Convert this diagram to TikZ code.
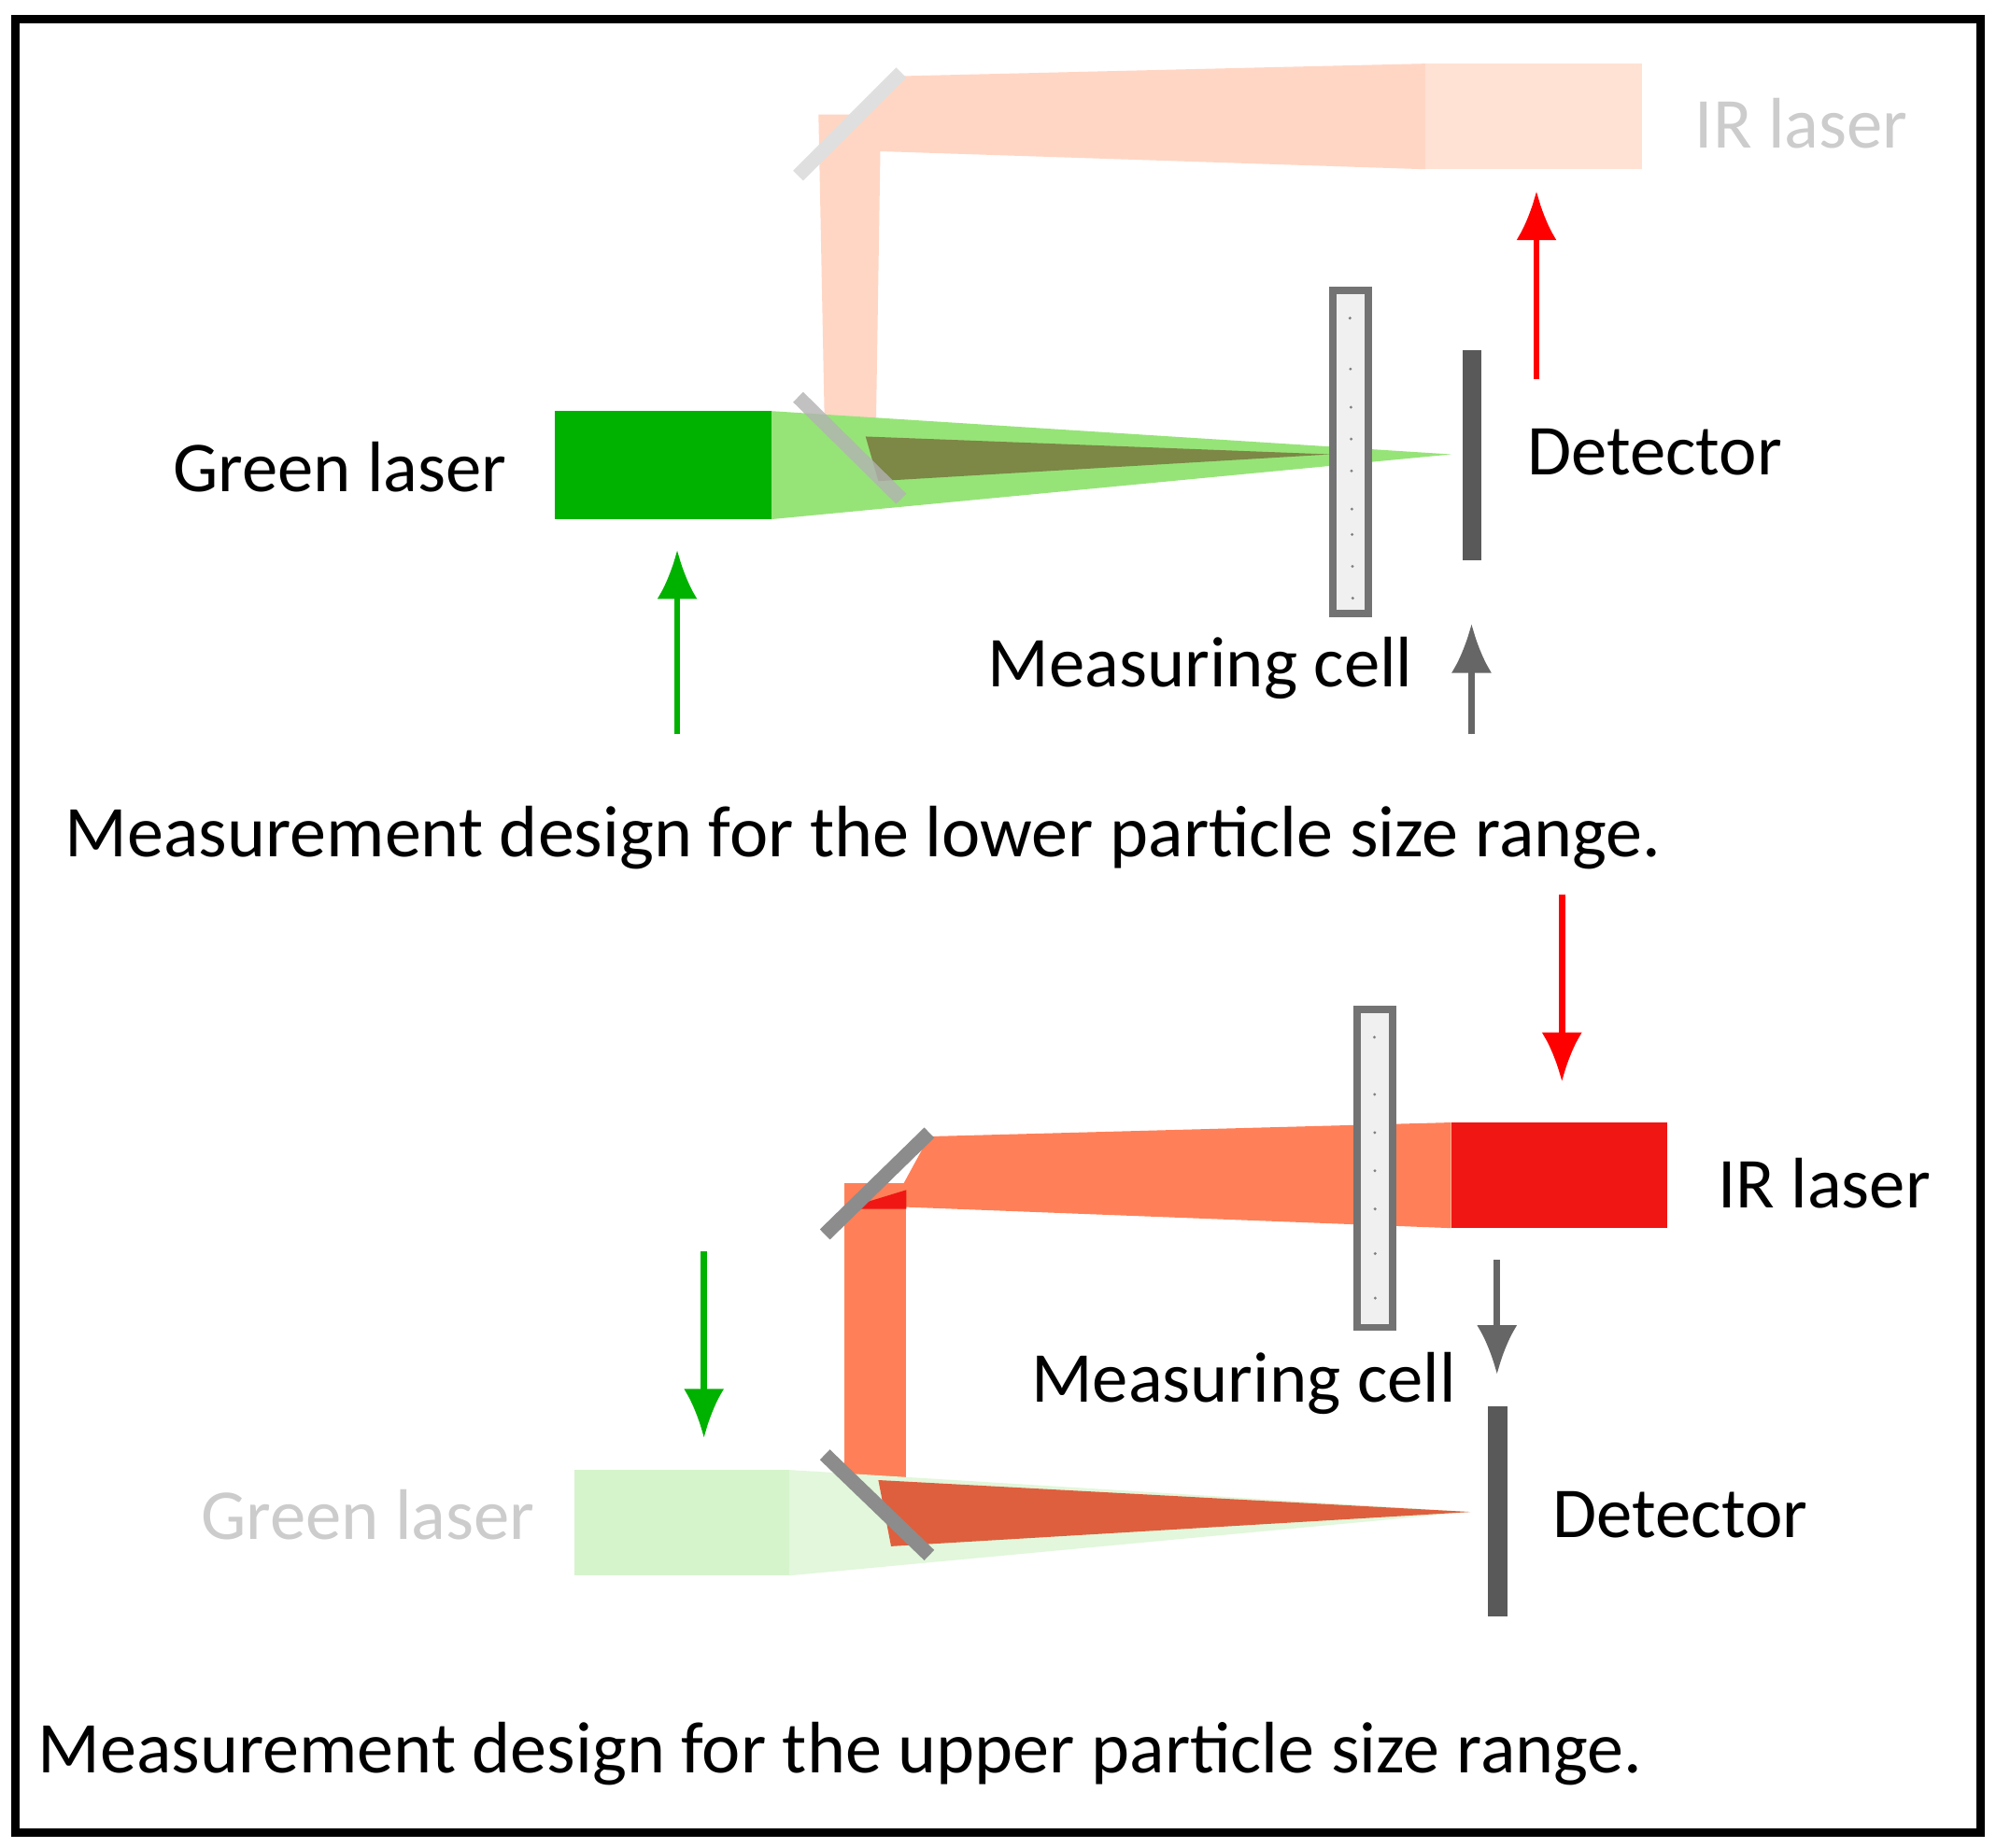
\documentclass[tikz,border=0pt]{standalone}
\usepackage{fontspec}
\usetikzlibrary{arrows.meta}
\setmainfont{Carlito}
\begin{document}
\begin{tikzpicture}[x=0.01cm,y=-0.01cm,
 lab/.style={font=\fontsize{16}{18}\selectfont,inner sep=0pt},
 captxt/.style={font=\fontsize{16.3}{19}\selectfont,inner sep=0pt},
 mirror/.style={line width=3.2pt,draw=gray!90},
 arr/.style={line width=1.4pt,-{Latex[length=11pt,width=9pt]}},
 cell/.style={draw=gray!90!black,line width=1.6pt,fill=gray!12}]
\definecolor{irfaint}{RGB}{255,226,212}
\definecolor{irbeamf}{RGB}{255,214,196}
\definecolor{grn}{RGB}{0,178,0}
\definecolor{grnbeam}{RGB}{150,228,120}
\definecolor{olive}{RGB}{125,135,70}
\definecolor{irred}{RGB}{240,22,20}
\definecolor{orng}{RGB}{255,128,88}
\definecolor{grnfaint}{RGB}{214,244,204}
\definecolor{darkred}{RGB}{222,95,62}
\useasboundingbox (0,0) rectangle (1568,1452);
\fill[white] (0,0) rectangle (1568,1452);
\draw[line width=1.8pt] (12,15) rectangle (1556,1440);
% ---- top panel
\fill[irbeamf] (700,60) -- (1120,50) -- (1120,133) -- (665,118) -- cycle;
\fill[irbeamf] (643,90) -- (692,90) -- (688,345) -- (648,345) -- cycle;
\fill[irfaint] (1120,50) rectangle (1290,133);
\fill[grnbeam] (606,323) -- (1140,357) -- (606,408) -- cycle;
\fill[olive] (680,343) -- (1045,357) -- (690,378) -- cycle;
\fill[grn] (436,323) rectangle (606,408);
\draw[mirror,draw=gray!25] (627,138) -- (708,57);
\draw[mirror,draw=gray!60,opacity=0.8] (627,312) -- (708,392);
\draw[cell] (1047,228) rectangle (1075,482);
\foreach \yy in {250,290,320,345,370,400,420,445,470} \fill[gray] (1058+\yy/100,\yy) circle (1.2);
\fill[black!65] (1149,275) rectangle (1164,440);
\node[lab] (tgl) at (267,367) {Green laser};
\node[lab] (tdet) at (1300,355) {Detector};
\node[lab,text=gray!40] (tir) at (1415,97) {IR laser};
\node[lab] (tmc) at (943,525) {Measuring cell};
\coordinate (ga1) at (532,577); \coordinate (ga2) at (532,432);
\coordinate (ra1) at (1207,298); \coordinate (ra2) at (1207,150);
\coordinate (ka1) at (1156,577); \coordinate (ka2) at (1156,490);
\draw[arr,draw=grn,fill=grn] (ga1) -- (ga2);
\draw[arr,draw=red,fill=red] (ra1) -- (ra2);
\draw[arr,draw=black!60,fill=black!60] (ka1) -- (ka2);
\node[captxt] (cap1) at (678,658) {Measurement design for the lower particle size range.};
% ---- bottom panel
\fill[orng] (730,893) -- (1140,882) -- (1140,965) -- (700,948) -- cycle;
\fill[orng] (663,930) rectangle (712,1175);
\fill[irred] (663,950) -- (712,935) -- (712,950) -- cycle;
\fill[irred] (1140,882) rectangle (1310,965);
\fill[grnfaint] (451,1155) rectangle (620,1238);
\fill[grnfaint!70] (620,1155) -- (1155,1188) -- (620,1238) -- cycle;
\fill[darkred] (690,1163) -- (1155,1188) -- (700,1215) -- cycle;
\draw[mirror] (648,970) -- (730,890);
\draw[mirror] (648,1143) -- (730,1222);
\draw[cell] (1066,793) rectangle (1094,1043);
\foreach \yy in {815,860,890,920,950,985,1020} \fill[gray] (1077+\yy/300,\yy) circle (1.2);
\fill[black!65] (1169,1105) rectangle (1184,1270);
\node[lab] (bir) at (1433,930) {IR laser};
\node[lab] (bmc) at (977,1087) {Measuring cell};
\node[lab] (bdet) at (1320,1190) {Detector};
\node[lab,text=gray!40] (bgl) at (289,1190) {Green laser};
\coordinate (rb1) at (1227,703); \coordinate (rb2) at (1227,850);
\coordinate (gb1) at (553,983); \coordinate (gb2) at (553,1130);
\coordinate (kb1) at (1176,990); \coordinate (kb2) at (1176,1080);
\draw[arr,draw=red,fill=red] (rb1) -- (rb2);
\draw[arr,draw=grn,fill=grn] (gb1) -- (gb2);
\draw[arr,draw=black!60,fill=black!60] (kb1) -- (kb2);
\node[captxt] (cap2) at (660,1378) {Measurement design for the upper particle size range.};
\end{tikzpicture}
\end{document}
